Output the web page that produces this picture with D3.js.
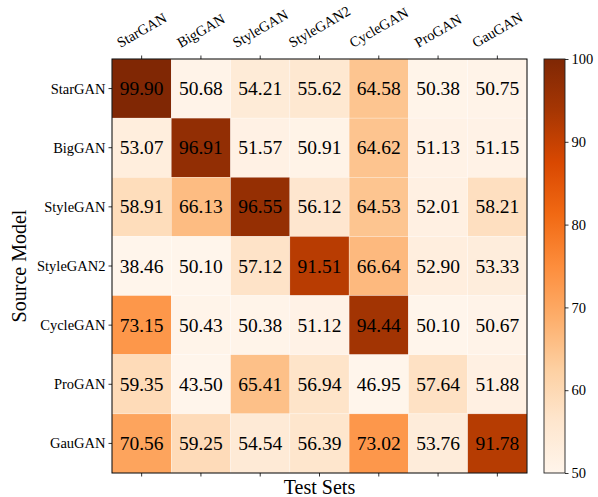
<!DOCTYPE html>
<html>
<head>
<meta charset="utf-8">
<script src="https://cdn.jsdelivr.net/npm/d3@7"></script>
<style>
  body { margin: 0; background: #fff; }
  svg text { font-family: "Liberation Serif", "Times New Roman", serif; fill: #000; }
</style>
</head>
<body>
<svg id="chart" width="598" height="497"></svg>
<script>
// source models (rows) and test sets (columns)
var sources = ["StarGAN", "BigGAN", "StyleGAN", "StyleGAN2", "CycleGAN", "ProGAN", "GauGAN"];
var testSets = ["StarGAN", "BigGAN", "StyleGAN", "StyleGAN2", "CycleGAN", "ProGAN", "GauGAN"];

// accuracy values, one row per source model
var accStarGAN   = [99.90, 50.68, 54.21, 55.62, 64.58, 50.38, 50.75];
var accBigGAN    = [53.07, 96.91, 51.57, 50.91, 64.62, 51.13, 51.15];
var accStyleGAN  = [58.91, 66.13, 96.55, 56.12, 64.53, 52.01, 58.21];
var accStyleGAN2 = [38.46, 50.10, 57.12, 91.51, 66.64, 52.90, 53.33];
var accCycleGAN  = [73.15, 50.43, 50.38, 51.12, 94.44, 50.10, 50.67];
var accProGAN    = [59.35, 43.50, 65.41, 56.94, 46.95, 57.64, 51.88];
var accGauGAN    = [70.56, 59.25, 54.54, 56.39, 73.02, 53.76, 91.78];

var colorTicks = [50, 60, 70, 80, 90, 100];

var matrix = [accStarGAN, accBigGAN, accStyleGAN, accStyleGAN2, accCycleGAN, accProGAN, accGauGAN];

// matplotlib "Oranges" anchors
var orangeStops = ["#fff5eb", "#fee6ce", "#fdd0a2", "#fdae6b", "#fd8d3c", "#f16913", "#d94801", "#a63603", "#7f2704"];

var svg = d3.select("#chart");

// plot box (window.top is reserved, so use a box object)
var box = {left: 112, top: 59, right: 527, bottom: 473};

var x = d3.scaleBand().domain(testSets.map((d, i) => i)).range([box.left, box.right]);
var y = d3.scaleBand().domain(sources.map((d, i) => i)).range([box.top, box.bottom]);

var vmin = 50, vmax = 100;
var color = d3.scaleLinear()
  .domain(orangeStops.map((c, i) => vmin + (vmax - vmin) * i / (orangeStops.length - 1)))
  .range(orangeStops)
  .interpolate(d3.interpolateRgb)
  .clamp(true);

var cells = [];
matrix.forEach((row, r) => row.forEach((v, c) => cells.push({r: r, c: c, v: v})));

// cells
svg.append("g").selectAll("rect")
  .data(cells)
  .join("rect")
  .attr("x", d => x(d.c))
  .attr("y", d => y(d.r))
  .attr("width", x.bandwidth())
  .attr("height", y.bandwidth())
  .attr("fill", d => color(d.v))
  .attr("stroke", "#fff")
  .attr("stroke-opacity", 0.5)
  .attr("stroke-width", 0.5);

// values in the cells
svg.append("g").selectAll("text")
  .data(cells)
  .join("text")
  .attr("x", d => x(d.c) + x.bandwidth() / 2)
  .attr("y", d => y(d.r) + y.bandwidth() / 2)
  .attr("text-anchor", "middle")
  .attr("dominant-baseline", "central")
  .style("font-size", "19.5px")
  .text(d => d.v.toFixed(2));

// frame
svg.append("rect")
  .attr("x", box.left).attr("y", box.top)
  .attr("width", box.right - box.left).attr("height", box.bottom - box.top)
  .attr("fill", "none").attr("stroke", "#000").attr("stroke-width", 1);

var tick = 3.5;
var tickG = svg.append("g").attr("stroke", "#000").attr("stroke-width", 0.8);

// top and bottom ticks
testSets.forEach((d, i) => {
  var cx = x(i) + x.bandwidth() / 2;
  tickG.append("line").attr("x1", cx).attr("x2", cx).attr("y1", box.top).attr("y2", box.top - tick);
  tickG.append("line").attr("x1", cx).attr("x2", cx).attr("y1", box.bottom).attr("y2", box.bottom + tick);
});
// left ticks
sources.forEach((d, i) => {
  var cy = y(i) + y.bandwidth() / 2;
  tickG.append("line").attr("x1", box.left).attr("x2", box.left - tick).attr("y1", cy).attr("y2", cy);
});

// top labels, rotated 30 degrees, box bottom aligned above ticks
var labelBottom = 50;
var ang = 30 * Math.PI / 180;
svg.append("g").selectAll("text")
  .data(testSets)
  .join("text")
  .style("font-size", "14.5px")
  .attr("text-anchor", "middle")
  .attr("dominant-baseline", "central")
  .text(d => d)
  .each(function(d, i) {
    var w = this.getComputedTextLength();
    var h = 14.5;
    var bh = w * Math.sin(ang) + h * Math.cos(ang);
    var cx = x(i) + x.bandwidth() / 2;
    var cy = labelBottom - bh / 2;
    d3.select(this).attr("x", cx).attr("y", cy)
      .attr("transform", "rotate(-30," + cx + "," + cy + ")");
  });

// left labels
svg.append("g").selectAll("text")
  .data(sources)
  .join("text")
  .attr("x", box.left - tick - 3)
  .attr("y", (d, i) => y(i) + y.bandwidth() / 2)
  .attr("text-anchor", "end")
  .attr("dominant-baseline", "central")
  .style("font-size", "14.5px")
  .text(d => d);

// axis titles
svg.append("text")
  .attr("transform", "translate(26," + ((box.top + box.bottom) / 2) + ") rotate(-90)")
  .attr("text-anchor", "middle")
  .style("font-size", "20px")
  .text("Source Model");

svg.append("text")
  .attr("x", (box.left + box.right) / 2)
  .attr("y", 494)
  .attr("text-anchor", "middle")
  .style("font-size", "20px")
  .text("Test Sets");

// colorbar
var cbLeft = 544, cbRight = 565;
var cbScale = d3.scaleLinear().domain([vmin, vmax]).range([box.bottom, box.top]);

var grad = svg.append("defs").append("linearGradient")
  .attr("id", "cbgrad")
  .attr("x1", 0).attr("y1", 1).attr("x2", 0).attr("y2", 0);
grad.selectAll("stop")
  .data(orangeStops)
  .join("stop")
  .attr("offset", (d, i) => i / (orangeStops.length - 1))
  .attr("stop-color", d => d);

svg.append("rect")
  .attr("x", cbLeft).attr("y", box.top)
  .attr("width", cbRight - cbLeft).attr("height", box.bottom - box.top)
  .attr("fill", "url(#cbgrad)")
  .attr("stroke", "#222").attr("stroke-width", 0.9);

var cbAxis = svg.append("g")
  .attr("transform", "translate(" + cbRight + ",0)")
  .call(d3.axisRight(cbScale).tickValues(colorTicks).tickSize(tick).tickPadding(3).tickFormat(d3.format("d")));
cbAxis.select(".domain").remove();
cbAxis.selectAll("line").attr("stroke", "#000").attr("stroke-width", 0.8);
cbAxis.selectAll("text")
  .attr("fill", "#000")
  .style("font-size", "14.5px")
  .style("font-family", "'Liberation Serif', serif");
</script>
</body>
</html>
